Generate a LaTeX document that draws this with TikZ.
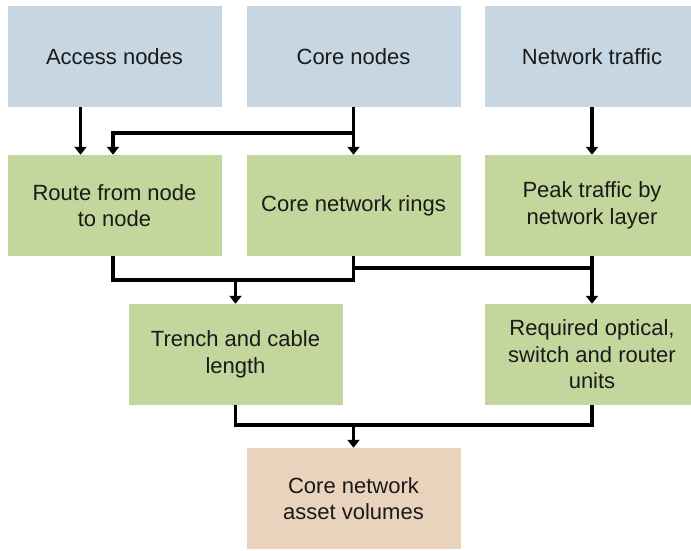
\documentclass[tikz,border=0pt]{standalone}
\usepackage{fontspec}
\setmainfont{Liberation Sans}
\usetikzlibrary{arrows.meta}
\definecolor{inblue}{HTML}{C6D6E2}
\definecolor{midgreen}{HTML}{C3D69B}
\definecolor{outpeach}{HTML}{E9D3BD}
\definecolor{ink}{HTML}{1A1A1A}
\tikzset{
  box/.style={rectangle, minimum width=214pt, minimum height=101pt, inner sep=0pt,
              align=center, text=ink, font=\fontsize{22}{26.5}\selectfont},
  inbox/.style={box, fill=inblue},
  calcbox/.style={box, fill=midgreen},
  outbox/.style={box, fill=outpeach},
  link/.style={line width=3.2pt, draw=black},
  arr/.style={link, -{Triangle[width=12pt,length=8pt]}}
}
\begin{document}
\begin{tikzpicture}[x=1pt,y=1pt]
\useasboundingbox (0,0) rectangle (691,550);
% inputs
\node[inbox] (acc)  at (114.5,493.5) {Access nodes};
\node[inbox] (core) at (353.5,493.5) {Core nodes};
\node[inbox] (traf) at (592,493.5)   {Network traffic};
% intermediate calculations
\node[calcbox] (route)  at (114.5,344.5) {Route from node\\to node};
\node[calcbox] (rings)  at (353.5,344.5) {Core network rings};
\node[calcbox] (peak)   at (592,344.5)   {Peak traffic by\\network layer};
\node[calcbox] (trench) at (235.5,195.5) {Trench and cable\\length};
\node[calcbox] (req)    at (592,195.5)   {Required optical,\\switch and router\\units};
% output
\node[outbox] (asset) at (353.5,51.5) {Core network\\asset volumes};
% junction points
\coordinate (j1) at (353.5,417);
\coordinate (j2) at (113,417);
\coordinate (j3) at (113,270);
\coordinate (j4) at (353.5,270);
\coordinate (j5) at (353.5,282);
\coordinate (j6) at (592,282);
\coordinate (j7) at (235.5,270);
\coordinate (j8) at (235.5,125);
\coordinate (j9) at (592,125);
\coordinate (j10) at (353.5,125);
% first row to second row
\draw[arr] ([xshift=-34pt]acc.south) -- ([xshift=-34pt]route.north);
\draw[arr] (core.south) -- (rings.north);
\draw[arr] (j1) -- (j2) -- (j2 |- route.north);
\draw[arr] (traf.south) -- (peak.north);
% second row to third row
\draw[link] (route.south -| j3) -- (j3) -- (j4) -- (rings.south);
\draw[arr] (j7) -- (trench.north);
\draw[link] (j5) -- (j6);
\draw[arr, line width=4pt] (peak.south) -- (req.north);
% third row to output
\draw[link] (trench.south) -- (j8) -- (j9) -- (req.south);
\draw[arr] (j10) -- (asset.north);
\end{tikzpicture}
\end{document}
